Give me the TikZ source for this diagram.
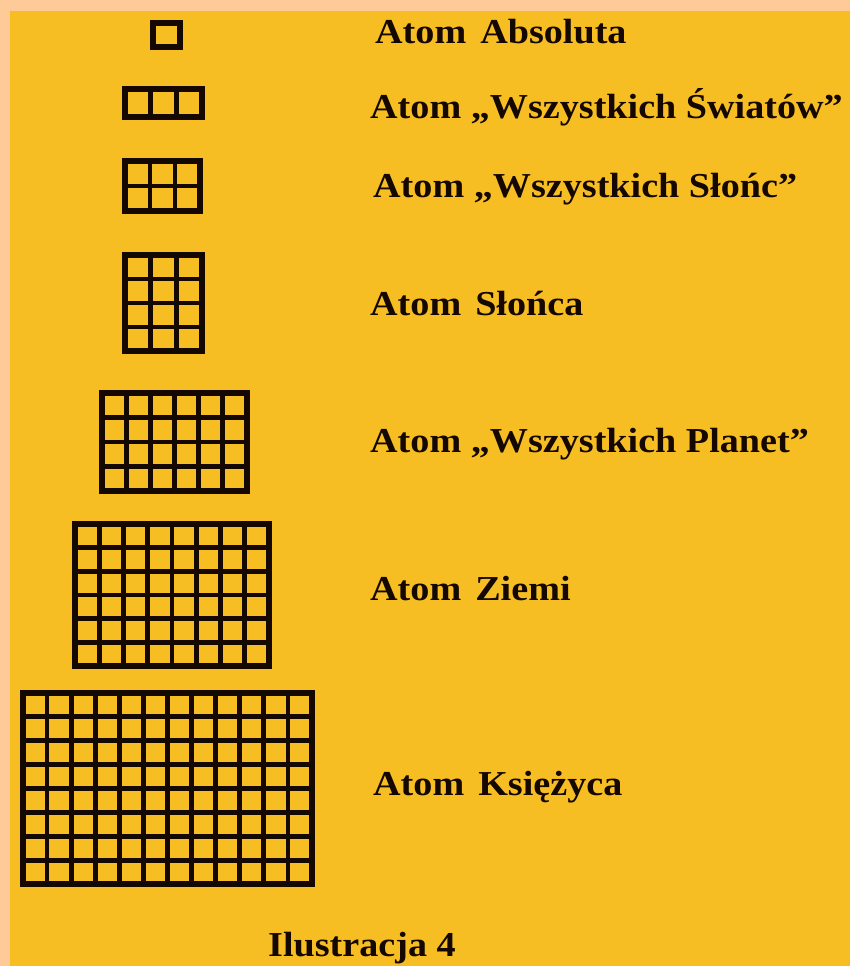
\documentclass[tikz,border=0pt]{standalone}
\usepackage{fontspec}
\setmainfont{Liberation Serif}
\newfontfamily\lblfont[FakeStretch=1.09]{Liberation Serif}
\definecolor{peach}{HTML}{FECB98}
\definecolor{gold}{HTML}{F7BE24}
\definecolor{ink}{HTML}{140800}
\tikzset{
  gridline/.style={draw=ink, line width=4.8pt, line cap=rect},
  gridframe/.style={draw=ink, line width=5.2pt, line join=miter},
  lbl/.style={anchor=base west, inner sep=0pt, text=ink,
    font=\lblfont\fontsize{35}{40}\selectfont\bfseries},
}
\newcommand\drawatomgrid[6]{% x0 y0 x1 y1 cols rows
  \foreach \i in {1,...,#5}{%
    \ifnum\i<#5
      \draw[gridline] ({#1+\i*(#3-#1)/#5},#2) -- ({#1+\i*(#3-#1)/#5},#4);
    \fi}
  \foreach \j in {1,...,#6}{%
    \ifnum\j<#6
      \draw[gridline] (#1,{#2+\j*(#4-#2)/#6}) -- (#3,{#2+\j*(#4-#2)/#6});
    \fi}
  \draw[gridframe] (#1,#2) rectangle (#3,#4);
}
\begin{document}
\begin{tikzpicture}[x=1pt,y=-1pt]
  \useasboundingbox (0,0) rectangle (850,966);
  \fill[peach] (0,0) rectangle (850,966);
  \fill[gold] (10,11) rectangle (850,966);
  % grids
  \drawatomgrid{153}{23}{180}{47}{1}{1}
  \drawatomgrid{125}{89}{202}{117}{3}{1}
  \drawatomgrid{125}{161}{200}{211}{3}{2}
  \drawatomgrid{125}{255}{202}{351}{3}{4}
  \drawatomgrid{102}{393}{247}{491}{6}{4}
  \drawatomgrid{75}{524}{269}{666}{8}{6}
  \drawatomgrid{23}{693}{312}{884}{12}{8}
  % labels
  \node[lbl] (t1) at (375,44) {Atom\hspace{0.4em}Absoluta};
  \node[lbl] (t2) at (370,118) {Atom „Wszystkich Światów”};
  \node[lbl] (t3) at (373,197) {Atom „Wszystkich Słońc”};
  \node[lbl] (t4) at (370,315) {Atom\hspace{0.4em}Słońca};
  \node[lbl] (t5) at (370,452) {Atom „Wszystkich Planet”};
  \node[lbl] (t6) at (370,600) {Atom\hspace{0.4em}Ziemi};
  \node[lbl] (t7) at (373,795) {Atom\hspace{0.4em}Księżyca};
  \node[lbl] (cap) at (268,956) {Ilustracja 4};
\end{tikzpicture}
\end{document}
